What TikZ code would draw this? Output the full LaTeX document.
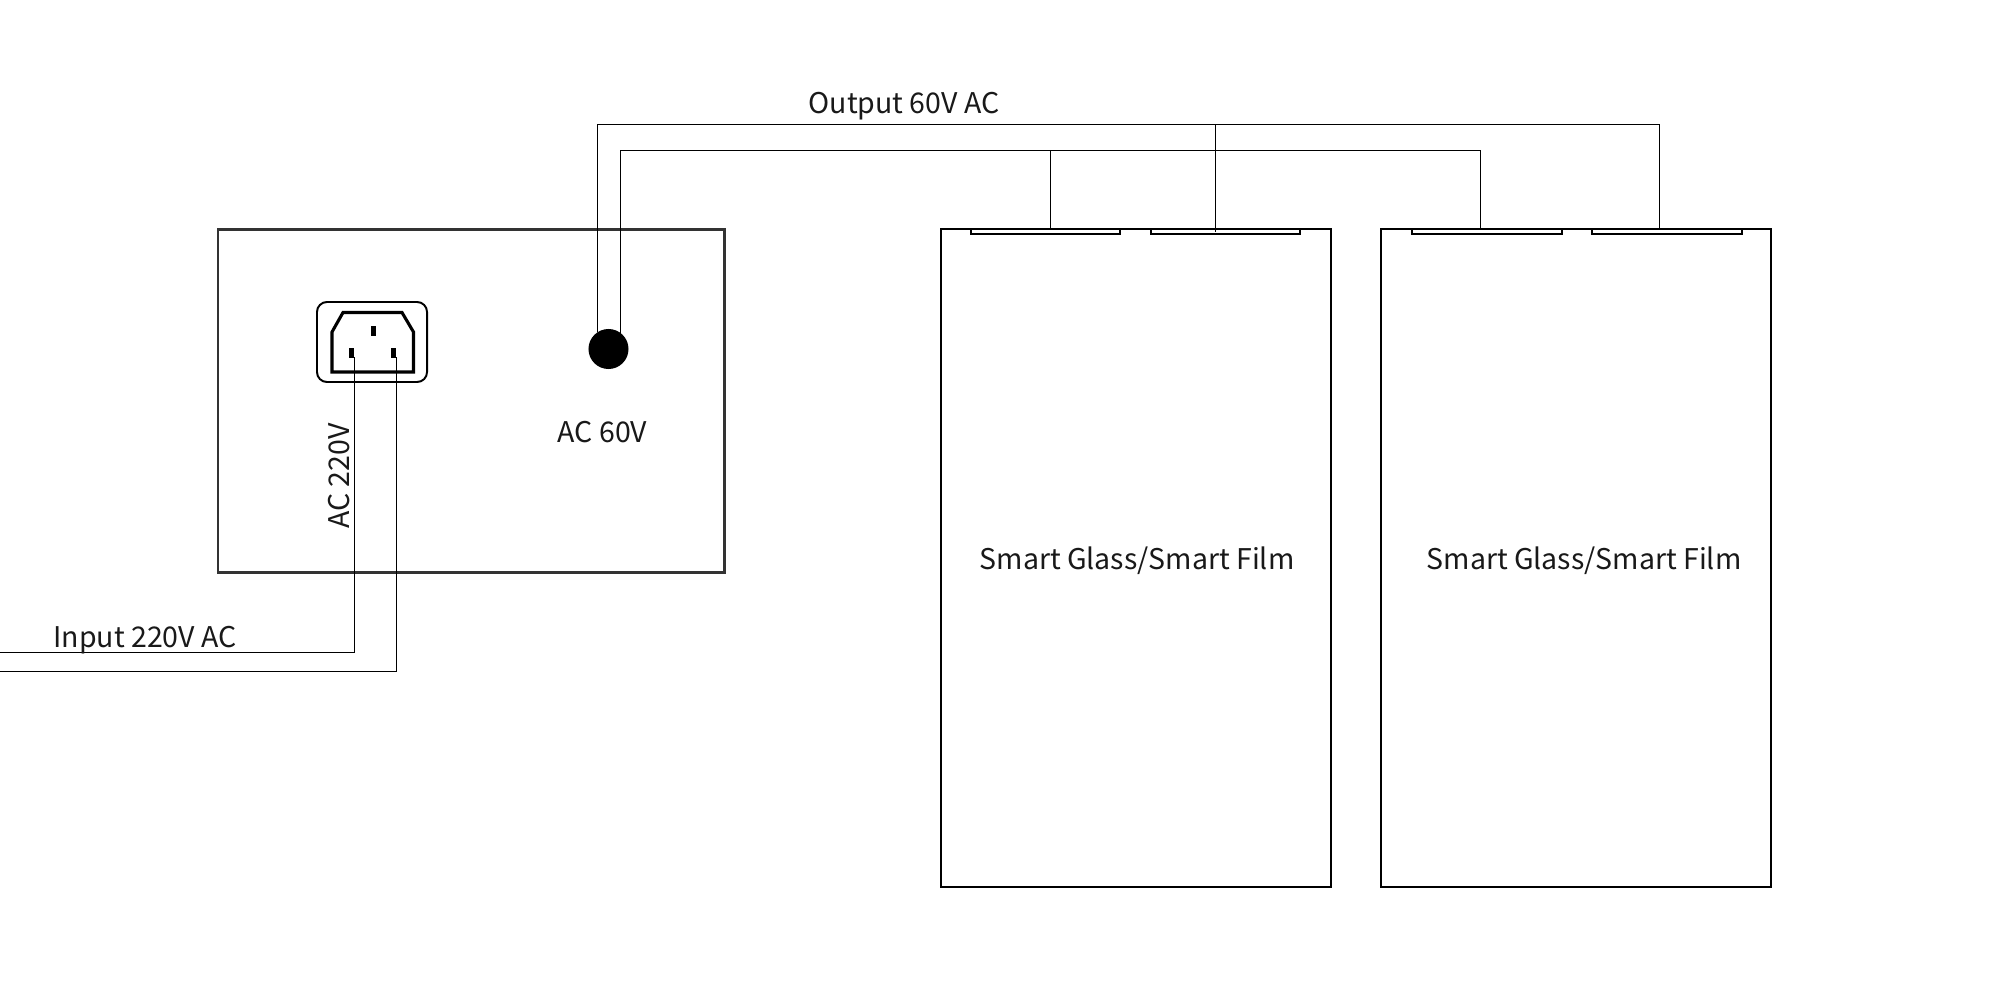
\documentclass[tikz,border=0pt]{standalone}
\usepackage{fontspec}
\setmainfont{Noto Sans CJK SC}
\usetikzlibrary{calc}
\tikzset{
  px/.style={x=0.01cm,y=-0.01cm},
  wire/.style={draw=black,line width=0.45pt},
  housing/.style={draw=black!80,line width=0.66pt,rectangle,inner sep=0,outer sep=0},
  panel/.style={draw=black,line width=0.62pt,rectangle,inner sep=0,outer sep=0,minimum width=3.90cm,minimum height=6.57cm},
  contact/.style={draw=black,line width=0.62pt,rectangle,inner sep=0,outer sep=0,minimum width=1.495cm,minimum height=0.045cm},
  pin/.style={fill=black,rectangle,inner sep=0,outer sep=0,minimum width=0.05cm,minimum height=0.10cm},
  lab/.style={inner sep=0,font=\fontsize{8.1pt}{10pt}\selectfont,text=black!90},
  plab/.style={inner sep=0,font=\fontsize{8.1pt}{10pt}\selectfont,text=black!90}
}
\begin{document}
\begin{tikzpicture}[px]
\useasboundingbox (0,0) rectangle (2000,1000);
\fill[white] (0,0) rectangle (2000,1000);
% housing
\node[housing,minimum width=5.065cm,minimum height=3.43cm] (box) at (471.25,401) {};
\node[draw=black,line width=0.55pt,rectangle,rounded corners=0.1cm,inner sep=0,outer sep=0,minimum width=1.10cm,minimum height=0.80cm] (socket) at (372,342) {};
\draw[line width=0.88pt] (332,332) -- (343,312.5) -- (402,312.5) -- (413.5,332) -- (413.5,372) -- (332,372) -- cycle;
\node[pin] (pinE) at (373.5,331) {};
\node[pin] (pinL) at (351.5,353) {};
\node[pin] (pinN) at (393.5,353) {};
\node[fill=black,circle,inner sep=0,outer sep=0,minimum size=0.40cm] (out) at (608.5,349) {};
% panels
\node[panel] (p1) at (1136,558) {};
\node[panel] (p2) at (1576,558) {};
\node[contact] (c1) at (1045.5,231.5) {};
\node[contact] (c2) at (1225.5,231.5) {};
\node[contact] (c3) at (1487,231.5) {};
\node[contact] (c4) at (1667,231.5) {};
% free wire ends
\coordinate (inA) at (0,652.5);
\coordinate (inB) at (0,671.5);
\coordinate (tapA) at (597.5,124.5);
\coordinate (tapB) at (620.5,150.5);
\coordinate (j1) at (1050.5,150.5);
\coordinate (j2) at (1215.5,124.5);
% wires
\draw[wire] (inA) -- (354.5,652.5) -- (354.5,357);
\draw[wire] (inB) -- (396.5,671.5) -- (396.5,357);
\draw[wire] (597.5,332) -- (tapA) -- (1659.5,124.5) -- (1659.5,229);
\draw[wire] (620.5,335) -- (tapB) -- (1480.5,150.5) -- (1480.5,229);
\draw[wire] (j1) -- (1050.5,229);
\draw[wire] (j2) -- (1215.5,232);
% labels
\node[lab,rotate=90] (t220) at (339,476) {AC 220V};
\node[lab] (t60) at (602.5,432) {AC 60V};
\node[lab] (tin) at (145,640.5) {Input 220V AC};
\node[lab] (tout) at (904,106.5) {Output 60V AC};
\node[plab] (g1) at (1137,561) {Smart Glass/Smart Film};
\node[plab] (g2) at (1584,561) {Smart Glass/Smart Film};
\end{tikzpicture}
\end{document}
